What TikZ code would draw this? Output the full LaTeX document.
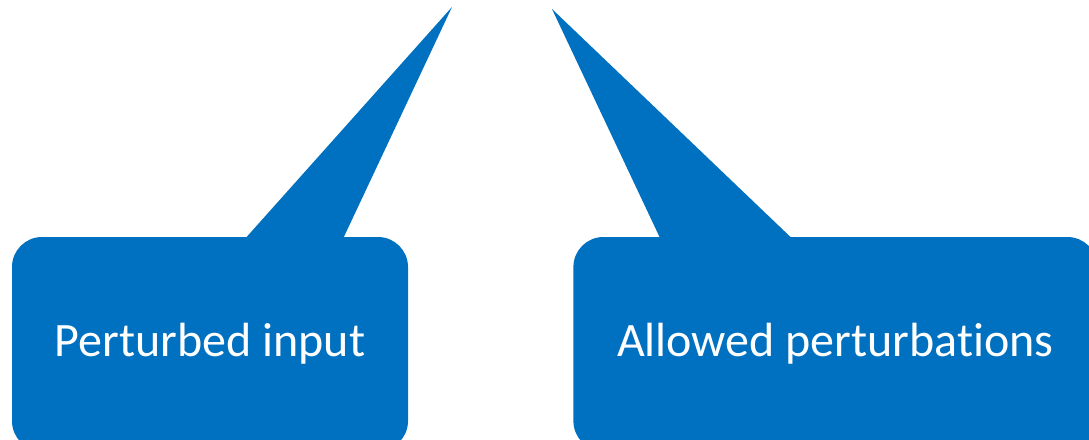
\documentclass[tikz,border=0pt]{standalone}
\usepackage{fontspec}
\setmainfont[Ligatures=NoCommon]{Carlito}
\usepackage{xcolor}
\usetikzlibrary{positioning}
\definecolor{calloutblue}{HTML}{0070C0}

\begin{document}
\begin{tikzpicture}[x=1pt, y=-1pt,
      bubble/.style={rounded corners=30pt, fill=calloutblue, text=white,
                     minimum height=214pt, align=center, inner sep=0pt,
                     font=\fontsize{48}{56}\selectfont},
      pointer/.style={fill=calloutblue}]
    \useasboundingbox (0,0) rectangle (1089,439);
    \clip (0,0) rectangle (1089,439);
    \node[bubble, minimum width=396pt] (perturbed) at (210,344) {Perturbed input};
    \node[bubble, minimum width=524pt, right=165pt of perturbed] (allowed) {Allowed perturbations};
    \coordinate (tipperturbed) at (452,7);
    \coordinate (tipallowed) at (552,9);
    % pointers
    \fill[pointer] ([xshift=35pt, yshift=-2pt]perturbed.north) -- (tipperturbed)
      -- ([xshift=133pt, yshift=-2pt]perturbed.north) -- cycle;
    \fill[pointer] ([xshift=-175pt, yshift=-2pt]allowed.north) -- (tipallowed)
      -- ([xshift=-43pt, yshift=-2pt]allowed.north) -- cycle;
\end{tikzpicture}
\end{document}
